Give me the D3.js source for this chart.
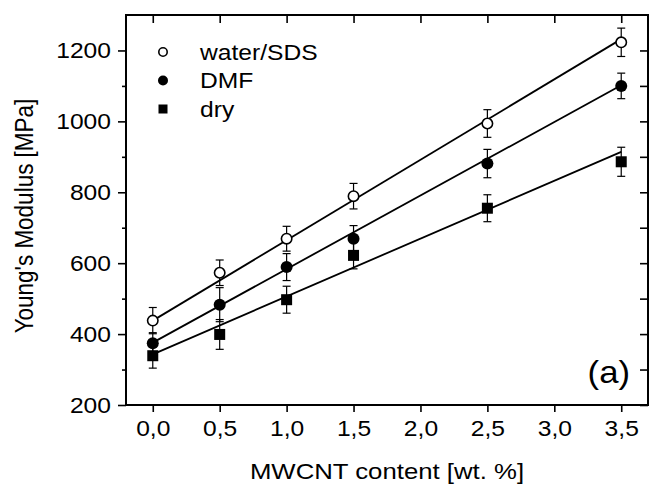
<!DOCTYPE html>
<html>
<head>
<meta charset="utf-8">
<script src="https://cdn.jsdelivr.net/npm/d3@7"></script>
<style>
  body { margin: 0; background: #fff; }
  svg { display: block; font-family: "Liberation Sans", Arial, sans-serif; }
</style>
</head>
<body>
<script>
// data
const content = [0, 0.5, 1.0, 1.5, 2.5, 3.5];
const seriesNames = ["water/SDS", "DMF", "dry"];
const waterSDS = [438, 573, 669, 789, 994, 1223];
const waterSDSErr = [37, 36, 35, 36, 39, 40];
const dmf = [374, 483, 589, 669, 881, 1100];
const dmfErr = [30, 48, 38, 37, 40, 36];
const dry = [339, 399, 497, 622, 755, 886];
const dryErr = [35, 42, 38, 38, 38, 41];
// linear fits: value at 0 and at 3.5 wt.%
const fitStart = [438, 376, 343];
const fitEnd = [1232, 1102, 914];
const xTicks = [0, 0.5, 1.0, 1.5, 2.0, 2.5, 3.0, 3.5];
const yTicks = [200, 400, 600, 800, 1000, 1200];
const yMinor = [300, 500, 700, 900, 1100];

const width = 650;
const height = 485;
const margin = { top: 15, right: 2, bottom: 80, left: 126 };
// the original figure's lettering is a bit wider than Arial
const stretch = 1.12;

const svg = d3
  .select("body")
  .append("svg")
  .attr("width", width)
  .attr("height", height);

const x = d3
  .scaleLinear()
  .domain([-0.2, 3.7])
  .range([margin.left, width - margin.right]);

const y = d3
  .scaleLinear()
  .domain([200, 1300])
  .range([height - margin.bottom, margin.top]);

const fmt = (d) => d3.format(".1f")(d).replace(".", ",");

// bottom axis, ticks outward
svg
  .append("g")
  .attr("class", "xaxis")
  .attr("transform", `translate(0,${y(200)})`)
  .call(d3.axisBottom(x).tickValues(xTicks).tickFormat(fmt).tickSize(7).tickSizeOuter(0).tickPadding(8));

// top axis, ticks inward
svg
  .append("g")
  .attr("transform", `translate(0,${y(1300)})`)
  .call(d3.axisBottom(x).tickValues(xTicks).tickFormat("").tickSize(8).tickSizeOuter(0));

// left axis
svg
  .append("g")
  .attr("class", "yaxis")
  .attr("transform", `translate(${x(-0.2)},0)`)
  .call(d3.axisLeft(y).tickValues(yTicks).tickFormat(d3.format("d")).tickSize(8).tickSizeOuter(0).tickPadding(7));

svg
  .append("g")
  .attr("transform", `translate(${x(-0.2)},0)`)
  .call(d3.axisLeft(y).tickValues(yMinor).tickFormat("").tickSize(4).tickSizeOuter(0));

// right axis, ticks inward
svg
  .append("g")
  .attr("transform", `translate(${x(3.7)},0)`)
  .call(d3.axisLeft(y).tickValues(yTicks.concat(yMinor)).tickFormat("").tickSize(-8).tickSizeOuter(0))
  .call((g) => g.selectAll(".tick line").attr("x2", -8));

svg.selectAll(".domain").remove();
svg.selectAll(".tick line").attr("stroke", "#000").attr("stroke-width", 1.6);
svg
  .selectAll(".tick text")
  .attr("fill", "#000")
  .attr("font-size", "22px")
  .attr("font-family", "'Liberation Sans', Arial, sans-serif");

svg.selectAll(".xaxis .tick text").attr("transform", `scale(${stretch},1)`);
svg
  .selectAll(".yaxis .tick text")
  .attr("x", -15 / stretch)
  .attr("transform", `scale(${stretch},1)`);

// frame
svg
  .append("rect")
  .attr("x", x(-0.2))
  .attr("y", y(1300))
  .attr("width", x(3.7) - x(-0.2))
  .attr("height", y(200) - y(1300))
  .attr("fill", "none")
  .attr("stroke", "#000")
  .attr("stroke-width", 2);

// axis titles
svg
  .append("text")
  .attr("transform", `translate(${(x(-0.2) + x(3.7)) / 2},479) scale(${stretch},1)`)
  .attr("text-anchor", "middle")
  .attr("font-size", "23px")
  .text("MWCNT content [wt. %]");

svg
  .append("text")
  .attr("transform", `translate(33,216) scale(${stretch},1) rotate(-90)`)
  .attr("text-anchor", "middle")
  .attr("font-size", "22.5px")
  .text("Young's Modulus [MPa]");

const series = [
  { name: seriesNames[0], values: waterSDS, err: waterSDSErr, shape: "openCircle" },
  { name: seriesNames[1], values: dmf, err: dmfErr, shape: "circle" },
  { name: seriesNames[2], values: dry, err: dryErr, shape: "square" },
];

// fit lines
svg
  .append("g")
  .selectAll("line")
  .data(series)
  .join("line")
  .attr("x1", x(content[0]))
  .attr("x2", x(content[content.length - 1]))
  .attr("y1", (d, i) => y(fitStart[i]))
  .attr("y2", (d, i) => y(fitEnd[i]))
  .attr("stroke", "#000")
  .attr("stroke-width", 1.8);

function drawMarker(sel, shape, size) {
  if (shape === "square") {
    sel
      .append("rect")
      .attr("x", -size)
      .attr("y", -size)
      .attr("width", size * 2)
      .attr("height", size * 2)
      .attr("fill", "#000");
  } else {
    sel
      .append("circle")
      .attr("r", shape === "openCircle" ? size - 0.8 : size)
      .attr("fill", shape === "openCircle" ? "#fff" : "#000")
      .attr("stroke", "#000")
      .attr("stroke-width", shape === "openCircle" ? 1.6 : 0);
  }
}

series.forEach((s) => {
  const pts = content.map((c, i) => ({ x: c, v: s.values[i], e: s.err[i] }));
  const g = svg.append("g");

  // error bars
  const eb = g.selectAll(".eb").data(pts).join("g").attr("class", "eb");
  eb.append("line")
    .attr("x1", (d) => x(d.x))
    .attr("x2", (d) => x(d.x))
    .attr("y1", (d) => y(d.v - d.e))
    .attr("y2", (d) => y(d.v + d.e))
    .attr("stroke", "#000")
    .attr("stroke-width", 1.2);
  [-1, 1].forEach((sgn) => {
    eb.append("line")
      .attr("x1", (d) => x(d.x) - 4)
      .attr("x2", (d) => x(d.x) + 4)
      .attr("y1", (d) => y(d.v + sgn * d.e))
      .attr("y2", (d) => y(d.v + sgn * d.e))
      .attr("stroke", "#000")
      .attr("stroke-width", 1.2);
  });

  // markers
  g.selectAll(".pt")
    .data(pts)
    .join("g")
    .attr("class", "pt")
    .attr("transform", (d) => `translate(${x(d.x)},${y(d.v)})`)
    .each(function () {
      drawMarker(d3.select(this), s.shape, s.shape === "square" ? 5.5 : 6);
    });
});

// legend
const legend = svg
  .append("g")
  .selectAll("g")
  .data(series)
  .join("g")
  .attr("transform", (d, i) => `translate(163,${52 + i * 28.5})`);

legend.each(function (d) {
  drawMarker(d3.select(this), d.shape, d.shape === "square" ? 4.5 : 5);
});

legend
  .append("text")
  .attr("transform", `translate(37,7.5) scale(${stretch},1)`)
  .attr("font-size", "22px")
  .text((d) => d.name);

// panel label
svg
  .append("text")
  .attr("transform", `translate(630,383) scale(${stretch},1)`)
  .attr("text-anchor", "end")
  .attr("font-size", "31px")
  .text("(a)");
</script>
</body>
</html>
